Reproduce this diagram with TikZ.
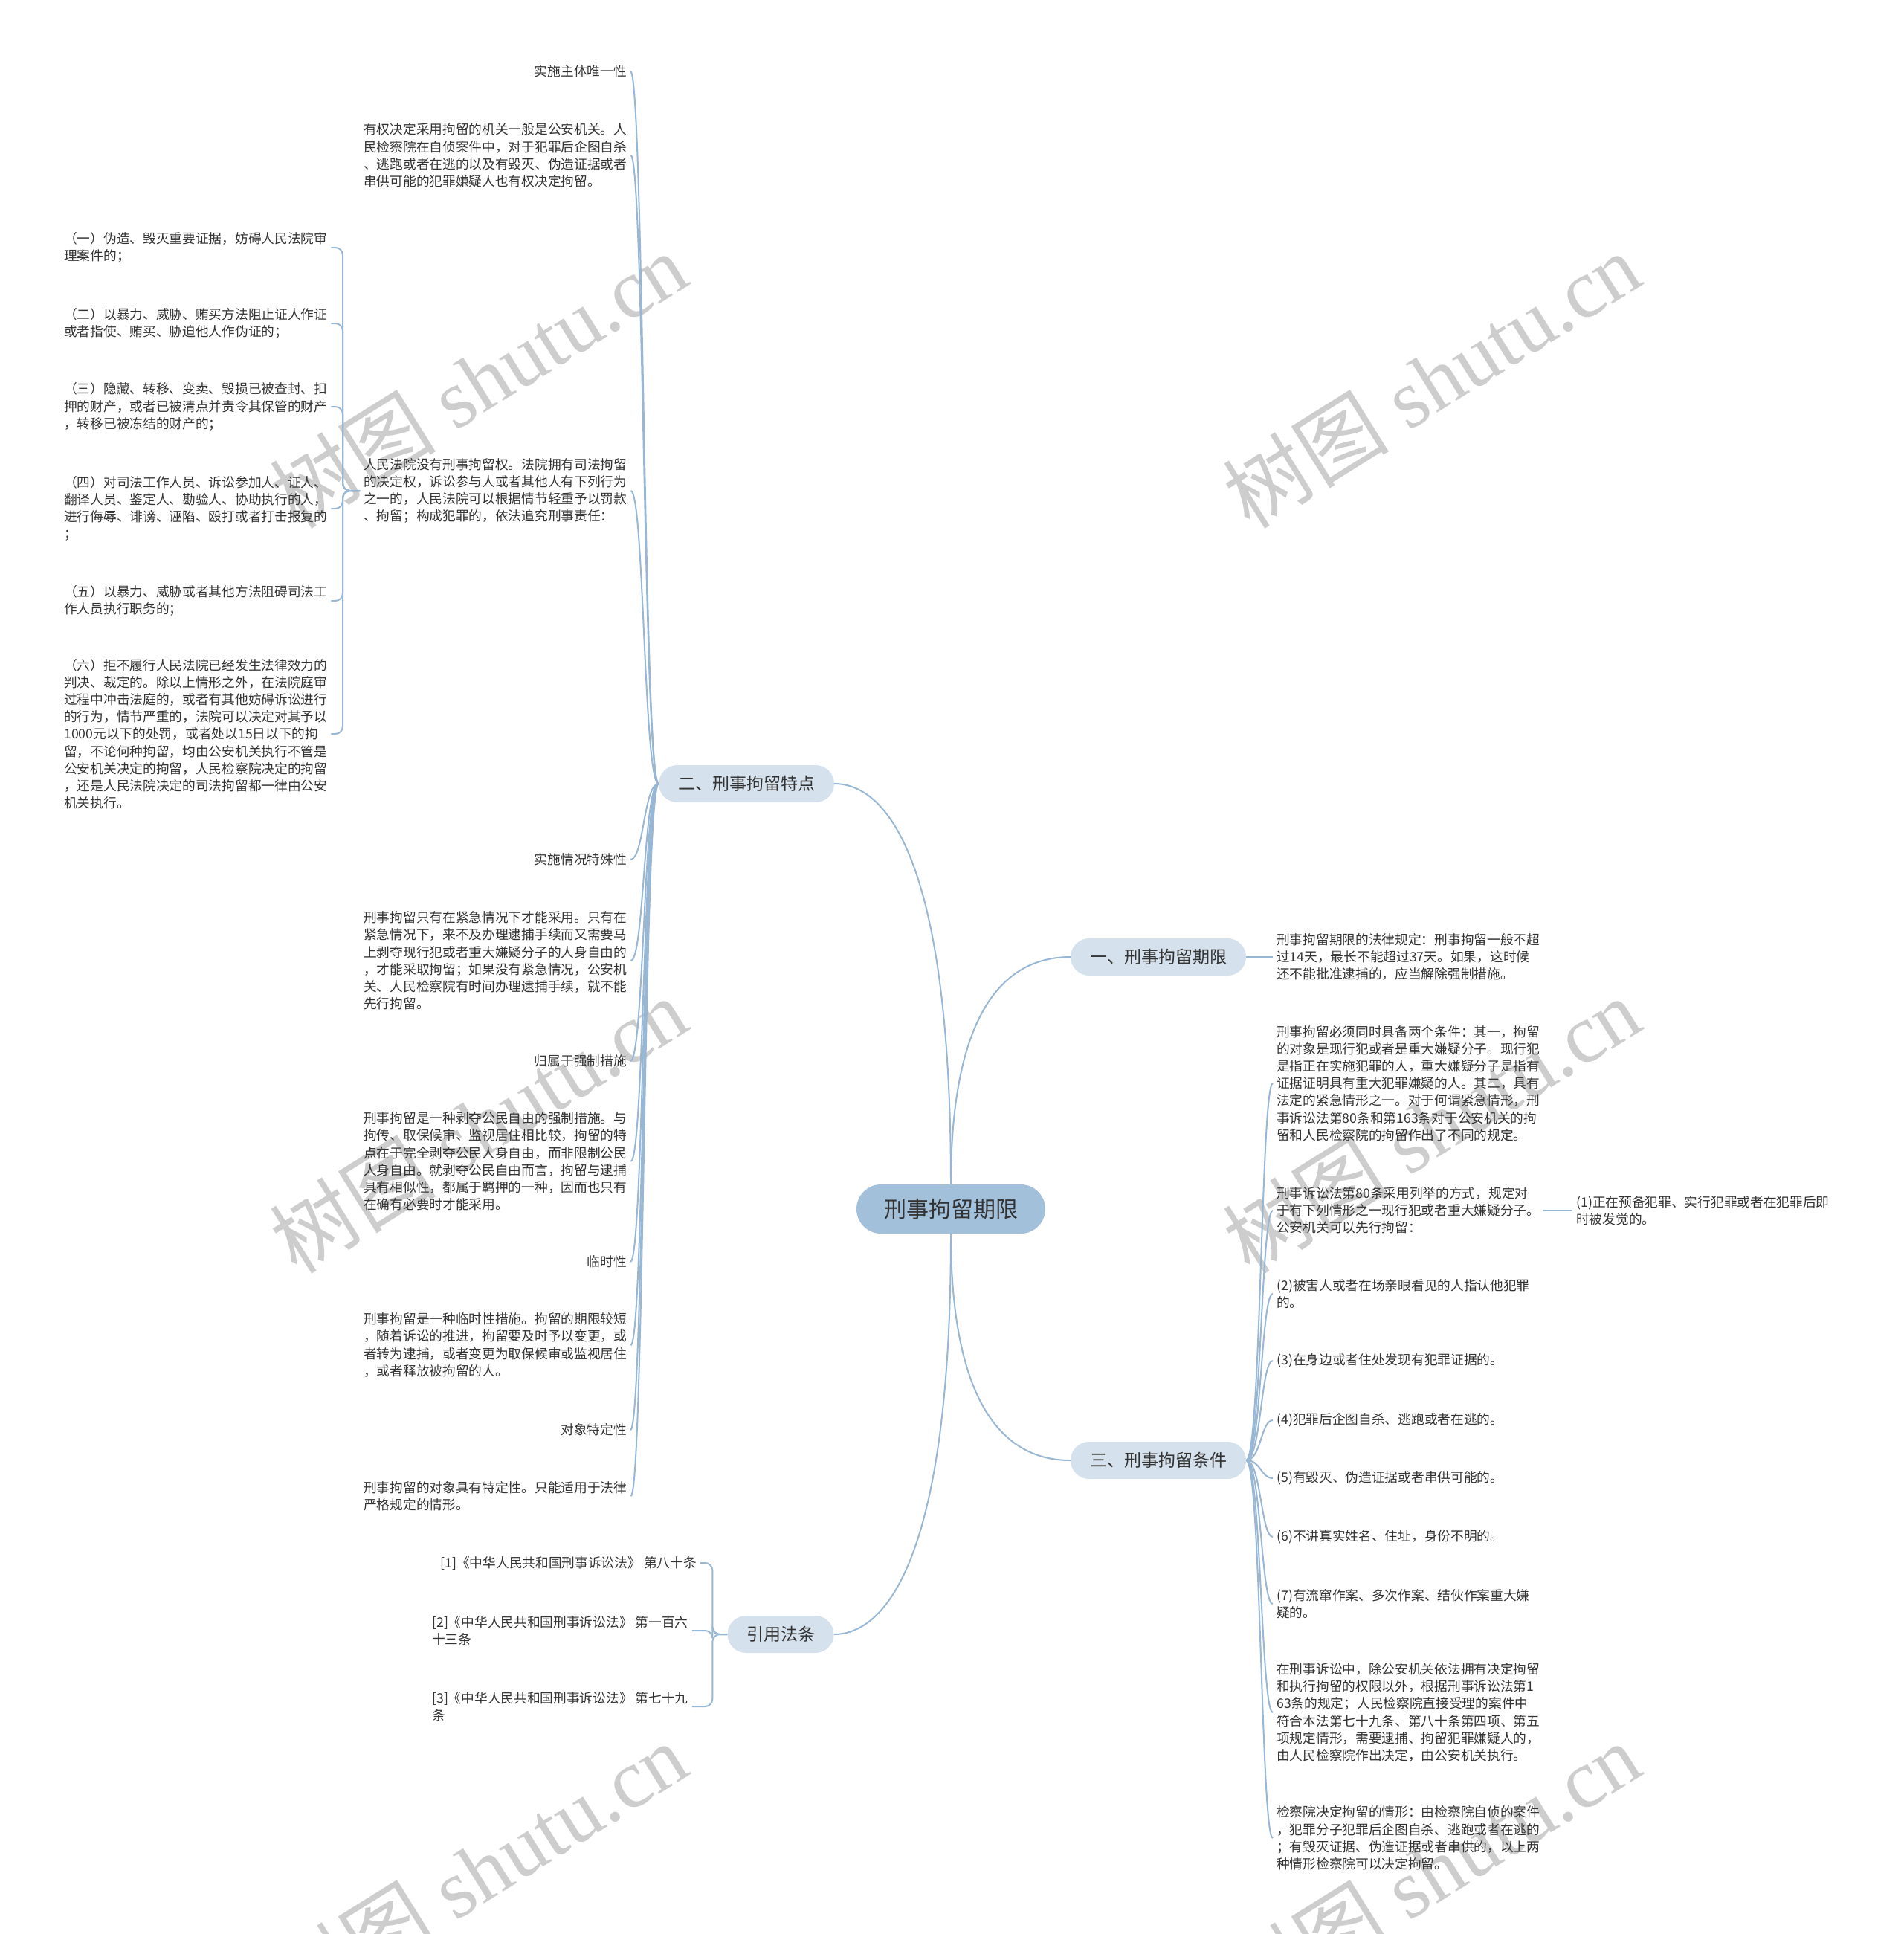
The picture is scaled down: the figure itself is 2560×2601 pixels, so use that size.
\documentclass[tikz,border=0pt]{standalone}
\usepackage{fontspec}
\newfontfamily\cjk{Noto Sans CJK SC}
\newfontfamily\wmserif{Liberation Serif}
\definecolor{linec}{RGB}{152,183,212}
\definecolor{rootfill}{RGB}{163,192,219}
\definecolor{brfill}{RGB}{213,225,236}
\definecolor{txt}{RGB}{51,51,51}
\definecolor{wmc}{RGB}{205,205,205}
\pgfdeclarelayer{wm}
\pgfdeclarelayer{lines}
\pgfsetlayers{wm,lines,main}
\tikzset{
  leaf/.style={font=\cjk\fontsize{17.7}{23.2}\selectfont, text=txt, inner xsep=5pt, inner ysep=2pt, align=left},
  leafr/.style={leaf, align=right},
  conn/.style={draw=linec, line width=2pt},
  rootbox/.style={fill=rootfill, rounded corners=33pt, minimum width=254pt, minimum height=66pt, font=\cjk\fontsize{30}{36}\selectfont, text=txt},
  branch/.style={fill=brfill, rounded corners=25pt, minimum width=236pt, minimum height=50pt, font=\cjk\fontsize{23}{28}\selectfont, text=txt},
  wmark/.style={rotate=32, text=wmc, font=\wmserif\fontsize{112}{112}\selectfont}
}
\begin{document}
\begin{tikzpicture}[x={(1pt,0pt)}, y={(0pt,-1pt)}]
\useasboundingbox (0,0) rectangle (2560,2601);

% central and main branches
\node[rootbox] (root) at (1279,1626) {刑事拘留期限};
\node[branch] (b2) at (1004,1054) {二、刑事拘留特点};
\node[branch] (b1) at (1558,1287) {一、刑事拘留期限};
\node[branch] (b3) at (1558,1964) {三、刑事拘留条件};
\node[branch, minimum width=143pt] (b4) at (1050,2198) {引用法条};

% children of 二
\node[leaf, anchor=east] (l1) at (848,96) {实施主体唯一性};
\node[leaf, anchor=west] (l2) at (484,209) {有权决定采用拘留的机关一般是公安机关。人\\民检察院在自侦案件中，对于犯罪后企图自杀\\、逃跑或者在逃的以及有毁灭、伪造证据或者\\串供可能的犯罪嫌疑人也有权决定拘留。};
\node[leaf, anchor=west] (l3) at (484,660) {人民法院没有刑事拘留权。法院拥有司法拘留\\的决定权，诉讼参与人或者其他人有下列行为\\之一的，人民法院可以根据情节轻重予以罚款\\、拘留；构成犯罪的，依法追究刑事责任：};
\node[leaf, anchor=east] (l4) at (848,1156) {实施情况特殊性};
\node[leaf, anchor=west] (l5) at (484,1292) {刑事拘留只有在紧急情况下才能采用。只有在\\紧急情况下，来不及办理逮捕手续而又需要马\\上剥夺现行犯或者重大嫌疑分子的人身自由的\\，才能采取拘留；如果没有紧急情况，公安机\\关、人民检察院有时间办理逮捕手续，就不能\\先行拘留。};
\node[leaf, anchor=east] (l6) at (848,1427) {归属于强制措施};
\node[leaf, anchor=west] (l7) at (484,1562) {刑事拘留是一种剥夺公民自由的强制措施。与\\拘传、取保候审、监视居住相比较，拘留的特\\点在于完全剥夺公民人身自由，而非限制公民\\人身自由。就剥夺公民自由而言，拘留与逮捕\\具有相似性，都属于羁押的一种，因而也只有\\在确有必要时才能采用。};
\node[leaf, anchor=east] (l8) at (848,1697) {临时性};
\node[leaf, anchor=west] (l9) at (484,1809) {刑事拘留是一种临时性措施。拘留的期限较短\\，随着诉讼的推进，拘留要及时予以变更，或\\者转为逮捕，或者变更为取保候审或监视居住\\，或者释放被拘留的人。};
\node[leaf, anchor=east] (l10) at (848,1923) {对象特定性};
\node[leaf, anchor=west] (l11) at (484,2012) {刑事拘留的对象具有特定性。只能适用于法律\\严格规定的情形。};

% children of l3
\node[leaf, anchor=west] (s1) at (81,333) {（一）伪造、毁灭重要证据，妨碍人民法院审\\理案件的；};
\node[leaf, anchor=west] (s2) at (81,435) {（二）以暴力、威胁、贿买方法阻止证人作证\\或者指使、贿买、胁迫他人作伪证的；};
\node[leaf, anchor=west] (s3) at (81,547) {（三）隐藏、转移、变卖、毁损已被查封、扣\\押的财产，或者已被清点并责令其保管的财产\\，转移已被冻结的财产的；};
\node[leaf, anchor=west] (s4) at (81,684) {（四）对司法工作人员、诉讼参加人、证人、\\翻译人员、鉴定人、勘验人、协助执行的人，\\进行侮辱、诽谤、诬陷、殴打或者打击报复的\\；};
\node[leaf, anchor=west] (s5) at (81,808) {（五）以暴力、威胁或者其他方法阻碍司法工\\作人员执行职务的；};
\node[leaf, anchor=west] (s6) at (81,987) {（六）拒不履行人民法院已经发生法律效力的\\判决、裁定的。除以上情形之外，在法院庭审\\过程中冲击法庭的，或者有其他妨碍诉讼进行\\的行为，情节严重的，法院可以决定对其予以\\1000元以下的处罚，或者处以15日以下的拘\\留，不论何种拘留，均由公安机关执行不管是\\公安机关决定的拘留，人民检察院决定的拘留\\，还是人民法院决定的司法拘留都一律由公安\\机关执行。};

% children of 引用法条
\node[leaf, anchor=east] (q1) at (942,2102) {[1]《中华人民共和国刑事诉讼法》 第八十条};
\node[leaf, anchor=west] (q2) at (576,2193) {[2]《中华人民共和国刑事诉讼法》 第一百六\\十三条};
\node[leaf, anchor=west] (q3) at (576,2295) {[3]《中华人民共和国刑事诉讼法》 第七十九\\条};

% child of 一
\node[leaf, anchor=west] (r0) at (1712,1287) {刑事拘留期限的法律规定：刑事拘留一般不超\\过14天，最长不能超过37天。如果，这时候\\还不能批准逮捕的，应当解除强制措施。};

% children of 三
\node[leaf, anchor=west] (ra) at (1712,1457) {刑事拘留必须同时具备两个条件：其一，拘留\\的对象是现行犯或者是重大嫌疑分子。现行犯\\是指正在实施犯罪的人，重大嫌疑分子是指有\\证据证明具有重大犯罪嫌疑的人。其二，具有\\法定的紧急情形之一。对于何谓紧急情形，刑\\事诉讼法第80条和第163条对于公安机关的拘\\留和人民检察院的拘留作出了不同的规定。};
\node[leaf, anchor=west] (rb) at (1712,1628) {刑事诉讼法第80条采用列举的方式，规定对\\于有下列情形之一现行犯或者重大嫌疑分子。\\公安机关可以先行拘留：};
\node[leaf, anchor=west] (p1) at (2115,1628) {(1)正在预备犯罪、实行犯罪或者在犯罪后即\\时被发觉的。};
\node[leaf, anchor=west] (rc) at (1712,1740) {(2)被害人或者在场亲眼看见的人指认他犯罪\\的。};
\node[leaf, anchor=west] (rd) at (1712,1830) {(3)在身边或者住处发现有犯罪证据的。};
\node[leaf, anchor=west] (re) at (1712,1910) {(4)犯罪后企图自杀、逃跑或者在逃的。};
\node[leaf, anchor=west] (rf) at (1712,1988) {(5)有毁灭、伪造证据或者串供可能的。};
\node[leaf, anchor=west] (rg) at (1712,2067) {(6)不讲真实姓名、住址，身份不明的。};
\node[leaf, anchor=west] (rh) at (1712,2157) {(7)有流窜作案、多次作案、结伙作案重大嫌\\疑的。};
\node[leaf, anchor=west] (ri) at (1712,2303) {在刑事诉讼中，除公安机关依法拥有决定拘留\\和执行拘留的权限以外，根据刑事诉讼法第1\\63条的规定；人民检察院直接受理的案件中\\符合本法第七十九条、第八十条第四项、第五\\项规定情形，需要逮捕、拘留犯罪嫌疑人的，\\由人民检察院作出决定，由公安机关执行。};
\node[leaf, anchor=west] (rj) at (1712,2472) {检察院决定拘留的情形：由检察院自侦的案件\\，犯罪分子犯罪后企图自杀、逃跑或者在逃的\\；有毁灭证据、伪造证据或者串供的，以上两\\种情形检察院可以决定拘留。};

% connectors
\begin{pgfonlayer}{lines}
\draw[conn] (root.north) .. controls +(0,-443) and +(68,0) .. (b2.east);
\draw[conn] (root.north) .. controls +(0,-213) and +(-100,0) .. (b1.west);
\draw[conn] (root.south) .. controls +(0,211) and +(-100,0) .. (b3.west);
\draw[conn] (root.south) .. controls +(0,441) and +(68,0) .. (b4.east);
\foreach \n in {l1,l2,l3,l4,l5,l6,l7,l8,l9,l10,l11}
  \draw[conn] (b2.west) .. controls +(-20,0) and +(18,0) .. (\n.east);
\foreach \n in {s1,s2,s3,s4,s5,s6}
  \draw[conn, rounded corners=10pt] (l3.west) -- ++(-23,0) |- (\n.east);
\foreach \n in {q1,q2,q3}
  \draw[conn, rounded corners=10pt] (b4.west) -- ++(-20,0) |- (\n.east);
\draw[conn] (b1.east) -- (r0.west);
\foreach \n in {ra,rb,rc,rd,re,rf,rg,rh,ri,rj}
  \draw[conn] (b3.east) .. controls +(20,0) and +(-16,0) .. (\n.west);
\draw[conn] (rb.east) -- (p1.west);
\end{pgfonlayer}

% background and watermarks
\begin{pgfonlayer}{wm}
\fill[white] (0,0) rectangle (2560,2601);
\node[wmark] (wm1) at (643,511) {{\cjk 树图} shutu.cn};
\node[wmark] (wm2) at (1925,511) {{\cjk 树图} shutu.cn};
\node[wmark] (wm3) at (643,1513) {{\cjk 树图} shutu.cn};
\node[wmark] (wm4) at (1925,1513) {{\cjk 树图} shutu.cn};
\node[wmark] (wm5) at (643,2515) {{\cjk 树图} shutu.cn};
\node[wmark] (wm6) at (1925,2515) {{\cjk 树图} shutu.cn};
\end{pgfonlayer}
\end{tikzpicture}
\end{document}
